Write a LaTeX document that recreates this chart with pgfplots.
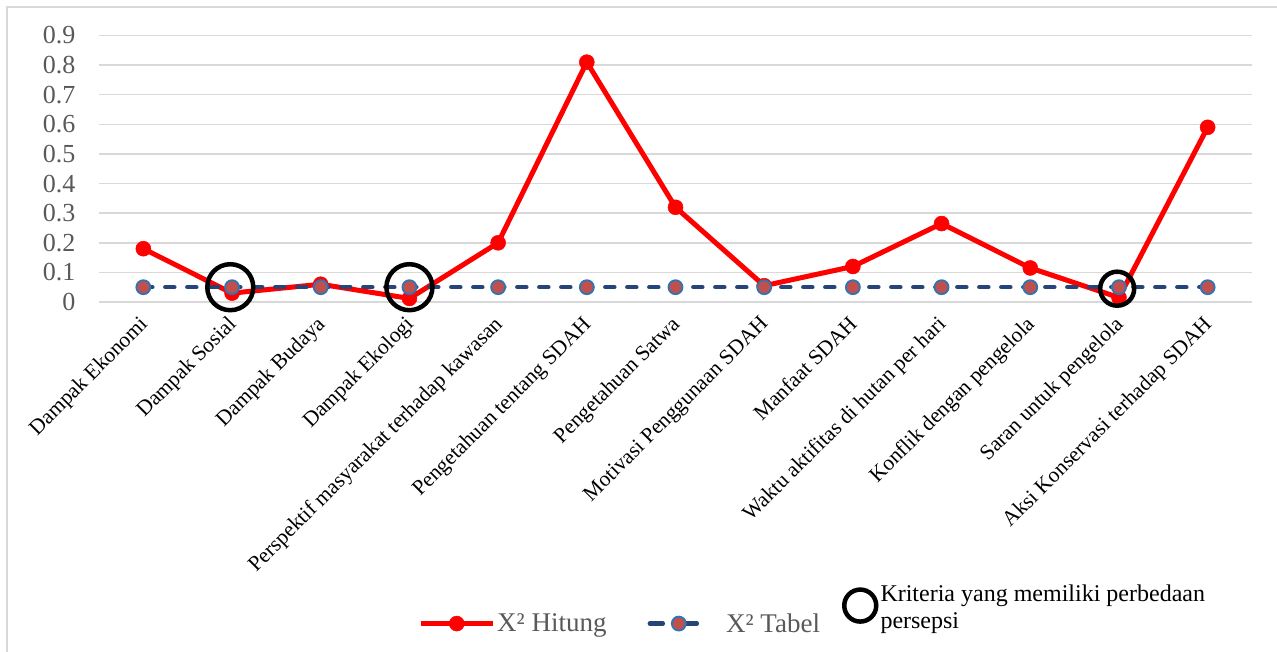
\documentclass[border=0pt]{standalone}
\usepackage{pgfplots}
\pgfplotsset{compat=1.18}
\usepackage{fontspec}
\setmainfont{Liberation Serif}

\definecolor{hitung}{HTML}{FF0000}
\definecolor{tabelline}{HTML}{264478}
\definecolor{tabelfill}{HTML}{C0504D}
\definecolor{tabeledge}{HTML}{2E75B6}
\definecolor{gridgray}{HTML}{D9D9D9}
\definecolor{labelgray}{HTML}{595959}

\pgfplotsset{
    hitunglegend/.style={legend image code/.code={%
        \draw[##1, mark repeat=2, mark phase=2] plot coordinates {(0pt,0pt) (36pt,0pt) (72pt,0pt)};}},
    tabellegend/.style={legend image code/.code={%
        \draw[##1, mark repeat=2, mark phase=2, dash pattern=on 13pt off 21pt, dash phase=-2pt] plot coordinates {(2pt,0pt) (33pt,0pt) (64pt,0pt)};
        \path (76pt,0pt);}},
    circlelegend/.style={legend image code/.code={%
        \draw[black, line width=4.5pt] (18.5pt,18pt) circle (16pt);}},
}

\begin{document}
\begin{tikzpicture}
\path[use as bounding box] (0pt,0pt) rectangle (1277pt,-651pt);
\draw[color=gridgray, line width=1.5pt] (7pt,-7pt) rectangle (1300pt,-700pt);
\begin{axis}[
    at={(99pt,-302pt)}, anchor=south west,
    scale only axis,
    width=1153pt, height=266.5pt,
    xmin=-0.5, xmax=12.5,
    ymin=0, ymax=0.9,
    clip=false,
    axis line style={draw=none},
    tick style={draw=none},
    ymajorgrids,
    grid style={color=gridgray, line width=1.5pt},
    ytick={0,0.1,0.2,0.3,0.4,0.5,0.6,0.7,0.8,0.9},
    yticklabels={0,0.1,0.2,0.3,0.4,0.5,0.6,0.7,0.8,0.9},
    yticklabel style={font=\fontsize{26}{30}\selectfont, text=labelgray, xshift=-20pt},
    xtick={0,1,2,3,4,5,6,7,8,9,10,11,12},
    xticklabels={Dampak Ekonomi, Dampak Sosial, Dampak Budaya, Dampak Ekologi,
        Perspektif masyarakat terhadap kawasan, Pengetahuan tentang SDAH,
        Pengetahuan Satwa, Motivasi Penggunaan SDAH, Manfaat SDAH,
        Waktu aktifitas di hutan per hari, Konflik dengan pengelola,
        Saran untuk pengelola, Aksi Konservasi terhadap SDAH},
    xticklabel style={font=\fontsize{21.5}{25}\selectfont, rotate=45, anchor=north east, inner sep=1pt, xshift=-11.8pt, yshift=-4pt},
    legend columns=3,
    legend style={at={(0.2767,-1.1614)}, anchor=west, draw=none, fill=none,
        inner sep=0pt,
        font=\fontsize{27}{31}\selectfont,
        nodes={inner sep=2pt},
        /tikz/column 2/.style={column sep=37pt},
        /tikz/column 4/.style={column sep=20pt}},
]
\addplot[color=hitung, line width=5pt, mark=*, mark size=7.5pt,
    mark options={solid, fill=hitung, draw=hitung, line width=0.5pt}, hitunglegend]
    coordinates {
    (0,0.18) (1,0.03) (2,0.06) (3,0.012) (4,0.20) (5,0.81) (6,0.32)
    (7,0.055) (8,0.12) (9,0.265) (10,0.115) (11,0.015) (12,0.59)
};
\addlegendentry{\textcolor{labelgray}{X² Hitung}}
\addplot[color=tabelline, line width=4.5pt, line cap=round, dash pattern=on 9pt off 13pt,
    mark=*, mark size=7pt,
    mark options={solid, fill=tabelfill, draw=tabeledge, line width=1.8pt}, tabellegend]
    coordinates {
    (0,0.05) (1,0.05) (2,0.05) (3,0.05) (4,0.05) (5,0.05) (6,0.05)
    (7,0.05) (8,0.05) (9,0.05) (10,0.05) (11,0.05) (12,0.05)
};
\addlegendentry{\textcolor{labelgray}{X² Tabel}}
\addplot[only marks, mark=o, mark size=23pt, color=black, line width=4.5pt, forget plot]
    coordinates {(0.98,0.05) (3,0.05)};
\addplot[only marks, mark=o, mark size=17pt, color=black, line width=4.5pt, circlelegend]
    coordinates {(10.98,0.045)};
\addlegendentry{\raisebox{7pt}[0pt][0pt]{\fontsize{24}{27}\selectfont\begin{tabular}{@{}l@{}}Kriteria yang memiliki perbedaan\\persepsi\end{tabular}}}
\end{axis}
\end{tikzpicture}
\end{document}
